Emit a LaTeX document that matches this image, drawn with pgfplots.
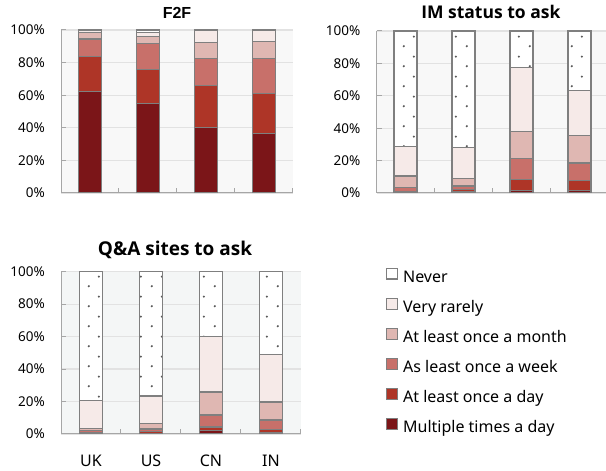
\documentclass[border=0pt]{standalone}
\usepackage{pgfplots}
\pgfplotsset{compat=1.18}
\usepackage{pgfplotstable}
\usepackage{fontspec}
\setmainfont{Noto Sans}
\newfontfamily\arialfont{Liberation Sans}
\newfontfamily\titlefont{Open Sans}
\usetikzlibrary{patterns}

\definecolor{cMulti}{HTML}{7B1518}
\definecolor{cDay}{HTML}{AE3527}
\definecolor{cWeek}{HTML}{C8706A}
\definecolor{cMonth}{HTML}{DFB7B2}
\definecolor{cRare}{HTML}{F6EAE8}
\definecolor{cEdge}{HTML}{7F7F7F}
\definecolor{cAxis}{HTML}{A6A6A6}
\definecolor{cGrid}{HTML}{E2E2E2}
\definecolor{cBgA}{HTML}{F8F8F8}
\definecolor{cBgB}{HTML}{F4F6F6}

\pgfdeclarepatternformonly{sparsedots}{\pgfpointorigin}{\pgfpoint{21pt}{20pt}}{\pgfpoint{21pt}{20pt}}{%
  \pgfpathcircle{\pgfpoint{5pt}{5pt}}{1.25pt}%
  \pgfpathcircle{\pgfpoint{15.5pt}{15pt}}{1.25pt}%
  \pgfusepath{fill}}

\pgfplotstableread{
x multi day week month rare never
0 62   22   10.5 4    1    0.5
1 55   20.5 16   4.5  2.5  1.5
2 40   26   16.3 9.8  7.9  0
3 36.5 24.7 21.5 10.4 6.9  0
}\ftf

\pgfplotstableread{
x multi day week month rare never
0 0.5 0.5 2.5  7    18.1 71.4
1 1.2 1.1 2    4.7  19   72
2 1.4 7.2 12.8 16.7 39.3 22.6
3 1.4 6.4 10.7 17.1 27.4 37
}\imtab

\pgfplotstableread{
x multi day week month rare never
0 0.5 0.5 1    1.5  17.2 79.3
1 0.5 0.9 1.7  3.1  17.2 76.6
2 2   2.3 7.4  14.2 33.9 40.2
3 1   1.5 6.1  11.1 29.4 50.9
}\qatab

\pgfplotsset{
  sqlegend/.style={legend image code/.code={\draw[##1] (0pt,0pt) rectangle (11pt,10.5pt);}},
  panel/.style={
    scale only axis, width=232pt, height=163pt,
    ybar stacked, bar width=23pt,
    xmin=-0.5, xmax=3.5, ymin=0, ymax=100,
    axis x line*=bottom, axis y line*=left,
    axis line style={draw=cAxis, line width=1pt, -},
    tick align=inside, major tick length=5pt,
    tick style={draw=cAxis, line width=1pt},
    ytick={0,20,40,60,80,100},
    yticklabels={0\%,20\%,40\%,60\%,80\%,100\%},
    yticklabel style={font=\fontsize{13.5}{16}\selectfont, inner sep=0pt, anchor=east, xshift=-16pt},
    xtick={0.5,1.5,2.5,3.5}, xticklabels={},
    ymajorgrids, grid style={draw=cGrid, line width=1.2pt},
    axis background/.style={fill=cBgA},
    title style={anchor=base},
    every axis plot post/.append style={sqlegend},
  },
  pm/.style={fill=cMulti, draw=cEdge, line width=1.1pt},
  pd/.style={fill=cDay, draw=cEdge, line width=1.1pt},
  pw/.style={fill=cWeek, draw=cEdge, line width=1.1pt},
  pmo/.style={fill=cMonth, draw=cEdge, line width=1.1pt},
  pr/.style={fill=cRare, draw=cEdge, line width=1.1pt},
  pnl/.style={fill=white, draw=cEdge, line width=1.1pt},
  pn/.style={pnl, postaction={pattern=sparsedots, pattern color=black!65}},
}

\begin{document}
\begin{tikzpicture}
\useasboundingbox (0,0) rectangle (606pt,471pt);

% F2F
\begin{axis}[panel, at={(61pt,278pt)}, anchor=south west,
  title={\arialfont\bfseries\fontsize{16}{19}\selectfont F2F},
  title style={at={(0.5,1)}, yshift=5.7pt}]
\addplot[pm] table[x=x,y=multi]{\ftf};
\addplot[pd] table[x=x,y=day]{\ftf};
\addplot[pw] table[x=x,y=week]{\ftf};
\addplot[pmo] table[x=x,y=month]{\ftf};
\addplot[pr] table[x=x,y=rare]{\ftf};
\addplot[pn] table[x=x,y=never]{\ftf};
\end{axis}

% IM
\begin{axis}[panel, at={(376.5pt,278pt)}, anchor=south west, height=162pt,
  title={IM status to ask},
  title style={at={(0.493,1)}, yshift=6pt, font=\titlefont\bfseries\fontsize{17.5}{21}\selectfont}]
\addplot[pm] table[x=x,y=multi]{\imtab};
\addplot[pd] table[x=x,y=day]{\imtab};
\addplot[pw] table[x=x,y=week]{\imtab};
\addplot[pmo] table[x=x,y=month]{\imtab};
\addplot[pr] table[x=x,y=rare]{\imtab};
\addplot[pn] table[x=x,y=never]{\imtab};
\end{axis}

% Q&A
\begin{axis}[panel, at={(61pt,37pt)}, anchor=south west, width=240pt, height=162.3pt,
  axis background/.style={fill=cBgB},
  title={Q\&A sites to ask},
  title style={at={(0.475,1)}, yshift=10pt, font=\titlefont\bfseries\fontsize{19}{23}\selectfont},
  extra x ticks={0,1,2,3}, extra x tick labels={UK,US,CN,IN},
  extra x tick style={tick style={draw=none},
    xticklabel style={font=\fontsize{16}{19}\selectfont, anchor=base, inner sep=0pt, yshift=-32.7pt}},
  legend style={at={(1.3542,1.0228)}, anchor=north west, draw=none, fill=none,
    inner sep=0pt, outer sep=0pt, row sep=11.5pt,
    font=\fontsize{16}{19}\selectfont,
    nodes={inner sep=0pt, text height=11pt, text depth=4pt},
    /tikz/every odd column/.append style={column sep=5pt}},
  legend cell align=left]
\addplot[pm, forget plot] table[x=x,y=multi]{\qatab};
\addplot[pd, forget plot] table[x=x,y=day]{\qatab};
\addplot[pw, forget plot] table[x=x,y=week]{\qatab};
\addplot[pmo, forget plot] table[x=x,y=month]{\qatab};
\addplot[pr, forget plot] table[x=x,y=rare]{\qatab};
\addplot[pn, forget plot] table[x=x,y=never]{\qatab};
\addlegendimage{sqlegend, pnl}
\addlegendentry{Never}
\addlegendimage{sqlegend, pr}
\addlegendentry{Very rarely}
\addlegendimage{sqlegend, pmo}
\addlegendentry{At least once a month}
\addlegendimage{sqlegend, pw}
\addlegendentry{As least once a week}
\addlegendimage{sqlegend, pd}
\addlegendentry{At least once a day}
\addlegendimage{sqlegend, pm}
\addlegendentry{Multiple times a day}
\end{axis}
\end{tikzpicture}
\end{document}
